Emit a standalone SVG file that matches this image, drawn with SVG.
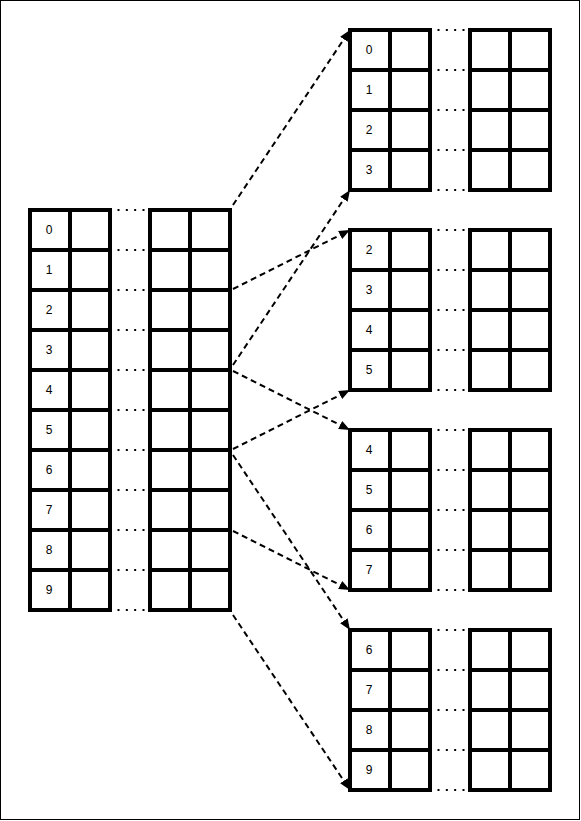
<svg xmlns="http://www.w3.org/2000/svg" width="581" height="821" viewBox="0 0 581 821">
<defs>
<style>
.c{fill:#fff;stroke:#000;stroke-width:4}
.d{stroke:#000;stroke-width:2;stroke-dasharray:2 6.33;fill:none}
.t{font-family:"Liberation Sans",Arial,sans-serif;font-size:12px;fill:#000;text-anchor:middle}
.a{stroke:#000;stroke-width:2;stroke-dasharray:6 4;fill:none;marker-end:url(#ah)}
</style>
<marker id="ah" markerUnits="userSpaceOnUse" markerWidth="12" markerHeight="10" refX="11" refY="4.5" orient="auto" viewBox="0 0 12 9">
<path d="M0,0 L11,4.5 L0,9 Z" fill="#000"/>
</marker>
<g id="row2">
<rect class="c" x="0" y="0" width="40" height="40"/>
<rect class="c" x="40" y="0" width="40" height="40"/>
<rect class="c" x="120" y="0" width="40" height="40"/>
<rect class="c" x="160" y="0" width="40" height="40"/>
</g>
</defs>
<rect x="0.5" y="0.5" width="579" height="819" fill="#fff" stroke="#000" stroke-width="1"/>

<g id="table-main">
<use href="#row2" x="30" y="210"/>
<use href="#row2" x="30" y="250"/>
<use href="#row2" x="30" y="290"/>
<use href="#row2" x="30" y="330"/>
<use href="#row2" x="30" y="370"/>
<use href="#row2" x="30" y="410"/>
<use href="#row2" x="30" y="450"/>
<use href="#row2" x="30" y="490"/>
<use href="#row2" x="30" y="530"/>
<use href="#row2" x="30" y="570"/>
<path class="d" d="M117.5,210H145M117.5,250H145M117.5,290H145M117.5,330H145M117.5,370H145M117.5,410H145M117.5,450H145M117.5,490H145M117.5,530H145M117.5,570H145M117.5,610H145"/>
<text class="t" x="49" y="234">0</text>
<text class="t" x="49" y="274">1</text>
<text class="t" x="49" y="314">2</text>
<text class="t" x="49" y="354">3</text>
<text class="t" x="49" y="394">4</text>
<text class="t" x="49" y="434">5</text>
<text class="t" x="49" y="474">6</text>
<text class="t" x="49" y="514">7</text>
<text class="t" x="49" y="554">8</text>
<text class="t" x="49" y="594">9</text>
</g>

<g id="table-a">
<use href="#row2" x="350" y="30"/>
<use href="#row2" x="350" y="70"/>
<use href="#row2" x="350" y="110"/>
<use href="#row2" x="350" y="150"/>
<path class="d" d="M437.5,30H465M437.5,70H465M437.5,110H465M437.5,150H465M437.5,190H465"/>
<text class="t" x="369" y="54">0</text>
<text class="t" x="369" y="94">1</text>
<text class="t" x="369" y="134">2</text>
<text class="t" x="369" y="174">3</text>
</g>

<g id="table-b">
<use href="#row2" x="350" y="230"/>
<use href="#row2" x="350" y="270"/>
<use href="#row2" x="350" y="310"/>
<use href="#row2" x="350" y="350"/>
<path class="d" d="M437.5,230H465M437.5,270H465M437.5,310H465M437.5,350H465M437.5,390H465"/>
<text class="t" x="369" y="254">2</text>
<text class="t" x="369" y="294">3</text>
<text class="t" x="369" y="334">4</text>
<text class="t" x="369" y="374">5</text>
</g>

<g id="table-c">
<use href="#row2" x="350" y="430"/>
<use href="#row2" x="350" y="470"/>
<use href="#row2" x="350" y="510"/>
<use href="#row2" x="350" y="550"/>
<path class="d" d="M437.5,430H465M437.5,470H465M437.5,510H465M437.5,550H465M437.5,590H465"/>
<text class="t" x="369" y="454">4</text>
<text class="t" x="369" y="494">5</text>
<text class="t" x="369" y="534">6</text>
<text class="t" x="369" y="574">7</text>
</g>

<g id="table-d">
<use href="#row2" x="350" y="630"/>
<use href="#row2" x="350" y="670"/>
<use href="#row2" x="350" y="710"/>
<use href="#row2" x="350" y="750"/>
<path class="d" d="M437.5,630H465M437.5,670H465M437.5,710H465M437.5,750H465M437.5,790H465"/>
<text class="t" x="369" y="654">6</text>
<text class="t" x="369" y="694">7</text>
<text class="t" x="369" y="734">8</text>
<text class="t" x="369" y="774">9</text>
</g>

<g id="connectors">
<line class="a" x1="233" y1="205" x2="350" y2="30"/>
<line class="a" x1="233" y1="365" x2="350" y2="190"/>
<line class="a" x1="233" y1="289" x2="350" y2="230"/>
<line class="a" x1="233" y1="449" x2="350" y2="390"/>
<line class="a" x1="233" y1="371" x2="350" y2="430"/>
<line class="a" x1="233" y1="531" x2="350" y2="590"/>
<line class="a" x1="233" y1="455" x2="350" y2="630"/>
<line class="a" x1="233" y1="615" x2="350" y2="790"/>
</g>
</svg>
